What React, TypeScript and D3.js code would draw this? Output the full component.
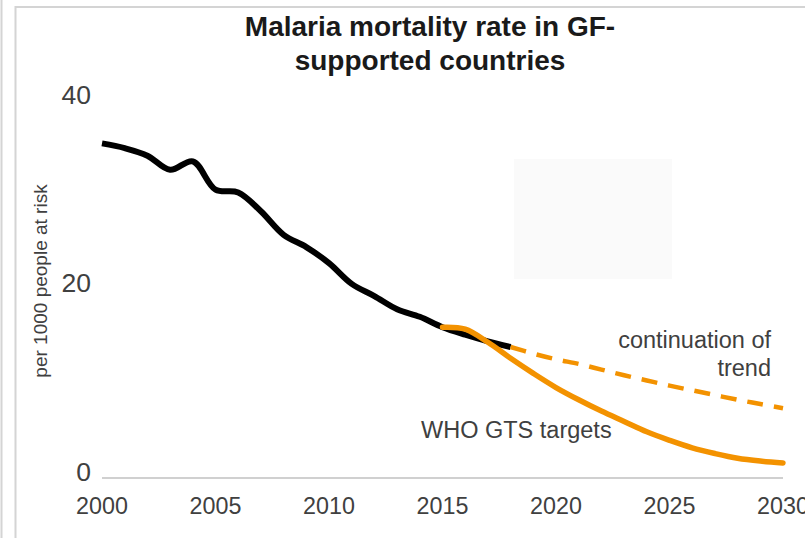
import React from "react";
import * as d3 from "d3";

const histYears = [2000, 2001, 2002, 2003, 2004, 2005, 2006, 2007, 2008, 2009, 2010, 2011, 2012, 2013, 2014, 2015, 2016, 2017, 2018];
const histValues = [35.5, 35.0, 34.2, 32.7, 33.6, 30.6, 30.3, 28.3, 25.8, 24.5, 22.8, 20.6, 19.3, 17.9, 17.1, 16.0, 15.2, 14.5, 13.9];

const gtsYears = [2015, 2016, 2017, 2018, 2019, 2020, 2021, 2022, 2023, 2024, 2025, 2026, 2027, 2028, 2029, 2030];
const gtsValues = [16.0, 15.8, 14.4, 12.7, 11.1, 9.6, 8.3, 7.1, 6.0, 4.9, 4.0, 3.2, 2.6, 2.1, 1.8, 1.6];

const trendYears = [2018, 2019, 2020, 2021, 2022, 2023, 2024, 2025, 2026, 2027, 2028, 2029, 2030];
const trendValues = [13.9, 13.2, 12.6, 12.1, 11.5, 10.9, 10.35, 9.8, 9.3, 8.8, 8.3, 7.85, 7.4];

const xTickLabels = [2000, 2005, 2010, 2015, 2020, 2025, 2030];
const yTickLabels = [0, 20, 40];

const titleLines = ["Malaria mortality rate in GF-", "supported countries"];
const yAxisTitle = "per 1000 people at risk";
const trendLabel = ["continuation of", "trend"];
const gtsLabel = "WHO GTS targets";

export default function App() {
  const W = 805;
  const H = 538;
  const x = d3.scaleLinear().domain([2000, 2030]).range([102, 783]);
  const y = d3.scaleLinear().domain([0, 40]).range([478, 101]);

  const line = d3
    .line<[number, number]>()
    .x((d) => x(d[0]))
    .y((d) => y(d[1]))
    .curve(d3.curveCatmullRom.alpha(0.5));

  const hist = line(histYears.map((yr, i) => [yr, histValues[i]] as [number, number])) || "";
  const gts = line(gtsYears.map((yr, i) => [yr, gtsValues[i]] as [number, number])) || "";
  const trend = line(trendYears.map((yr, i) => [yr, trendValues[i]] as [number, number])) || "";

  const textColor = "#404040";
  const font = "'Liberation Sans', Arial, sans-serif";
  const orange = "#F39200";

  return (
    <svg
      width={W}
      height={H}
      style={{ position: "absolute", left: 0, top: 0, display: "block", background: "#fff" }}
      fontFamily={font}
    >
      <rect x={0} y={0} width={W} height={H} fill="#fff" />
      {/* outer borders */}
      <line x1={1.5} x2={1.5} y1={0} y2={H} stroke="#d4d4d4" strokeWidth={2} />
      <line x1={15.5} x2={15.5} y1={6} y2={H} stroke="#d4d4d4" strokeWidth={2} />
      <line x1={15} x2={W} y1={7} y2={7} stroke="#d4d4d4" strokeWidth={2} />

      {/* faint rectangle */}
      <rect x={514} y={159} width={158} height={120} fill="#fafafa" />

      {/* title */}
      {titleLines.map((t, i) => (
        <text
          key={i}
          x={430}
          y={36 + i * 34}
          textAnchor="middle"
          fontSize={28}
          fontWeight="bold"
          fill="#1a1a1a"
        >
          {t}
        </text>
      ))}

      {/* y axis labels */}
      {yTickLabels.map((v) => (
        <text key={v} x={91} y={y(v) + 2.5} textAnchor="end" fontSize={26.5} fill={textColor}>
          {v}
        </text>
      ))}

      {/* y axis title */}
      <text
        transform={`translate(47,281) rotate(-90)`}
        textAnchor="middle"
        fontSize={19}
        fill={textColor}
      >
        {yAxisTitle}
      </text>

      {/* x axis baseline */}
      <line x1={x(2000)} x2={x(2030)} y1={y(0)} y2={y(0)} stroke="#d0d0d0" strokeWidth={2} />

      {/* x labels */}
      {xTickLabels.map((v) => (
        <text key={v} x={x(v)} y={514} textAnchor="middle" fontSize={23.3} fill={textColor}>
          {v}
        </text>
      ))}

      {/* lines */}
      <path d={hist} fill="none" stroke="#000" strokeWidth={6} strokeLinejoin="round" />
      <path d={trend} fill="none" stroke={orange} strokeWidth={4.5} strokeDasharray="16,11" />
      <path d={gts} fill="none" stroke={orange} strokeWidth={5.5} strokeLinecap="round" />

      {/* annotations */}
      {trendLabel.map((t, i) => (
        <text key={i} x={771} y={348 + i * 28} textAnchor="end" fontSize={23.5} fill={textColor}>
          {t}
        </text>
      ))}
      <text x={421} y={438} fontSize={23.5} fill={textColor}>
        {gtsLabel}
      </text>
    </svg>
  );
}
